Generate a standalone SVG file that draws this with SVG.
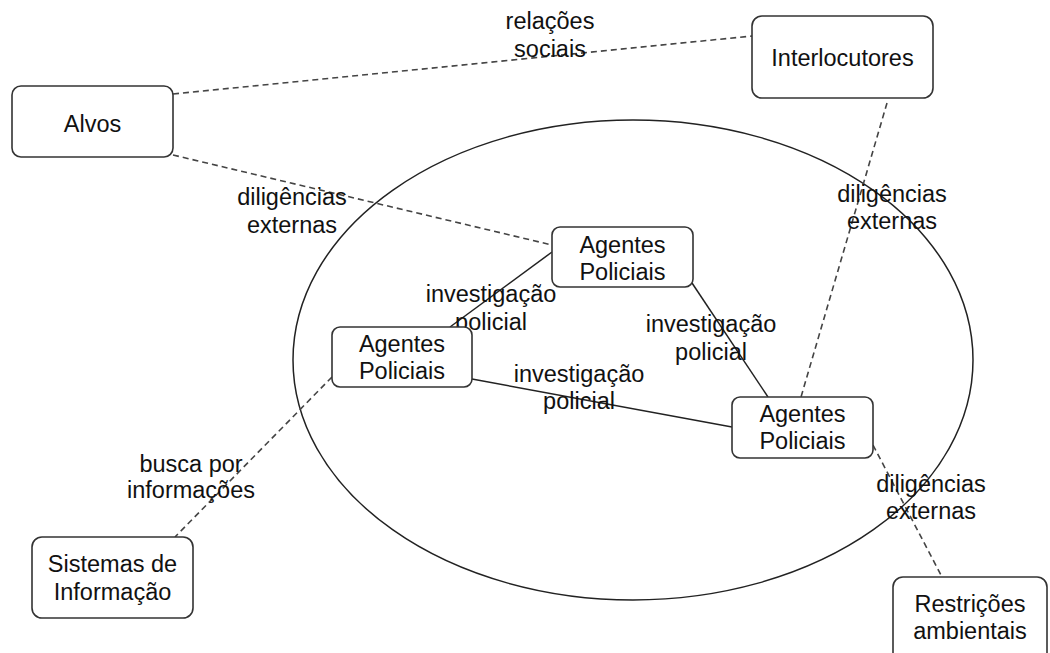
<svg xmlns="http://www.w3.org/2000/svg" width="1050" height="653" viewBox="0 0 1050 653">
<style>
.box{fill:#fff;stroke:#333;stroke-width:1.6}
.t{font-family:"Liberation Sans",Arial,sans-serif;font-size:23.5px;fill:#111;text-anchor:middle}
.solid{stroke:#222;stroke-width:1.5;fill:none}
.dash{stroke:#444;stroke-width:1.6;fill:none;stroke-dasharray:6 4}
</style>
<rect width="1050" height="653" fill="#fff"/>
<ellipse cx="633" cy="360" rx="340" ry="240" fill="none" stroke="#222" stroke-width="1.5"/>
<g id="connectors">
<line class="dash" x1="173" y1="94" x2="752" y2="36"/>
<line class="dash" x1="173" y1="155" x2="552" y2="245"/>
<line class="dash" x1="887" y1="103" x2="801" y2="397"/>
<line class="solid" x1="450" y1="327" x2="552" y2="252"/>
<line class="solid" x1="692" y1="283" x2="768" y2="397"/>
<line class="solid" x1="472" y1="379" x2="732" y2="427"/>
<line class="dash" x1="332" y1="377" x2="175" y2="537"/>
<line class="dash" x1="873" y1="445" x2="942" y2="577"/>
</g>
<g id="labels">
<text class="t" x="550" y="29">relações<tspan x="550" y="57">sociais</tspan></text>
<text class="t" x="292" y="205">diligências<tspan x="292" y="233">externas</tspan></text>
<text class="t" x="892" y="202">diligências<tspan x="892" y="229">externas</tspan></text>
<text class="t" x="491" y="302">investigação<tspan x="491" y="330">policial</tspan></text>
<text class="t" x="711" y="332">investigação<tspan x="711" y="360">policial</tspan></text>
<text class="t" x="579" y="382">investigação<tspan x="579" y="409">policial</tspan></text>
<text class="t" x="931" y="492">diligências<tspan x="931" y="519">externas</tspan></text>
<text class="t" x="191" y="472">busca por<tspan x="191" y="498">informações</tspan></text>
</g>
<g id="alvos"><rect class="box" x="12" y="86" width="161" height="71" rx="9"/><text class="t" x="92.5" y="132">Alvos</text></g>
<g id="interlocutores"><rect class="box" x="752" y="16" width="181" height="82" rx="10"/><text class="t" x="842.5" y="66">Interlocutores</text></g>
<g id="agentes-top"><rect class="box" x="552" y="227" width="141" height="60" rx="8"/><text class="t" x="622.5" y="253">Agentes<tspan x="622.5" y="280">Policiais</tspan></text></g>
<g id="agentes-left"><rect class="box" x="332" y="327" width="140" height="60" rx="8"/><text class="t" x="402" y="352">Agentes<tspan x="402" y="379">Policiais</tspan></text></g>
<g id="agentes-right"><rect class="box" x="732" y="397" width="141" height="61" rx="8"/><text class="t" x="802.5" y="422">Agentes<tspan x="802.5" y="449">Policiais</tspan></text></g>
<g id="sistemas"><rect class="box" x="32" y="537" width="161" height="81" rx="10"/><text class="t" x="112.5" y="572">Sistemas de<tspan x="112.5" y="600">Informação</tspan></text></g>
<g id="restricoes"><rect class="box" x="893" y="577" width="154" height="90" rx="10"/><text class="t" x="970" y="612">Restrições<tspan x="970" y="639">ambientais</tspan></text></g>
</svg>
